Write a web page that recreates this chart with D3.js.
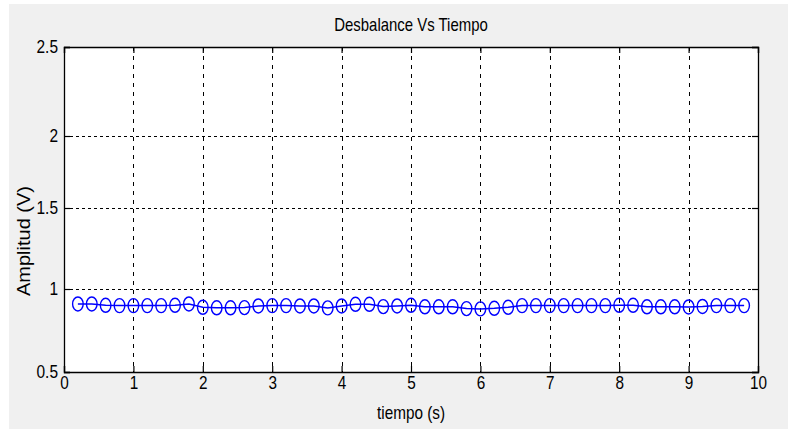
<!DOCTYPE html>
<html>
<head>
<meta charset="utf-8">
<script src="https://cdn.jsdelivr.net/npm/d3@7"></script>
<style>
  html, body { margin: 0; padding: 0; background: #ffffff; }
  svg { display: block; }
  text { font-family: "Liberation Sans", Arial, sans-serif; fill: #000; }
</style>
</head>
<body>
<svg id="chart" width="788" height="431"></svg>
<script>
// Sample times (s) and measured imbalance amplitude (V)
const tiempo = [0.2,0.4,0.6,0.8,1.0,1.2,1.4,1.6,1.8,2.0,2.2,2.4,2.6,2.8,3.0,3.2,3.4,3.6,3.8,4.0,
                4.2,4.4,4.6,4.8,5.0,5.2,5.4,5.6,5.8,6.0,6.2,6.4,6.6,6.8,7.0,7.2,7.4,7.6,7.8,8.0,
                8.2,8.4,8.6,8.8,9.0,9.2,9.4,9.6,9.8];
const amplitud = [0.910,0.910,0.902,0.900,0.900,0.900,0.900,0.902,0.910,0.890,0.887,0.887,0.888,0.898,0.900,0.900,0.898,0.898,0.886,0.898,
                  0.908,0.908,0.894,0.898,0.902,0.893,0.893,0.893,0.882,0.880,0.884,0.890,0.900,0.900,0.900,0.900,0.900,0.900,0.900,0.902,
                  0.902,0.893,0.893,0.893,0.892,0.895,0.900,0.900,0.900];
const xTicks = [0,1,2,3,4,5,6,7,8,9,10];
const yTicks = [0.5,1,1.5,2,2.5];
const titulo = "Desbalance Vs Tiempo";
const etiquetaX = "tiempo (s)";
const etiquetaY = "Amplitud (V)";

const svg = d3.select("#chart");

// figure background
svg.append("rect").attr("x", 9).attr("y", 4).attr("width", 779).attr("height", 425).attr("fill", "#f0f0f0");

const pLeft = 64, pRight = 758, pTop = 47, pBottom = 372;

const x = d3.scaleLinear().domain([0, 10]).range([pLeft, pRight]);
const y = d3.scaleLinear().domain([0.5, 1, 1.5, 2, 2.5]).range([pBottom, 289, 208, 136, pTop]);

// axes area
svg.append("rect").attr("x", pLeft).attr("y", pTop).attr("width", pRight - pLeft).attr("height", pBottom - pTop)
  .attr("fill", "#ffffff");

// grid
const grid = svg.append("g");
grid.selectAll("line.vx").data(xTicks.slice(1, -1)).join("line")
  .attr("x1", d => Math.round(x(d)) + 0.5).attr("x2", d => Math.round(x(d)) + 0.5)
  .attr("y1", pTop).attr("y2", pBottom)
  .attr("stroke", "#000").attr("stroke-width", 1).attr("stroke-dasharray", "4,5");
grid.selectAll("line.hy").data(yTicks.slice(1, -1)).join("line")
  .attr("y1", d => Math.round(y(d)) + 0.5).attr("y2", d => Math.round(y(d)) + 0.5)
  .attr("x1", pLeft).attr("x2", pRight)
  .attr("stroke", "#000").attr("stroke-width", 1).attr("stroke-dasharray", "3,3");

// axes with inward ticks
const xAxis = d3.axisBottom(x).tickValues(xTicks).tickSize(-6).tickPadding(4).tickFormat(d3.format("d"));
const xTopAxis = d3.axisTop(x).tickValues(xTicks).tickSize(-6).tickFormat("");
const yAxis = d3.axisLeft(y).tickValues(yTicks).tickSize(-6).tickPadding(7).tickFormat(d => String(d));
const yRightAxis = d3.axisRight(y).tickValues(yTicks).tickSize(-6).tickFormat("");

function styleAxis(g) {
  g.selectAll("path").attr("stroke", "#000").attr("stroke-width", 1.3);
  g.selectAll("line").attr("stroke", "#000").attr("stroke-width", 1.2);
  g.selectAll("text").attr("font-size", 18).attr("fill", "#000")
    .style("font-family", "'Liberation Sans', Arial, sans-serif");
}

const gx = svg.append("g").attr("transform", `translate(0,${pBottom})`).call(xAxis).call(styleAxis);
gx.selectAll("text").attr("transform", "scale(0.85,1)");
svg.append("g").attr("transform", `translate(0,${pTop})`).call(xTopAxis).call(styleAxis);
const gy = svg.append("g").attr("transform", `translate(${pLeft},0)`).call(yAxis).call(styleAxis);
gy.selectAll("text").attr("transform", "scale(0.86,1)");
svg.append("g").attr("transform", `translate(${pRight},0)`).call(yRightAxis).call(styleAxis);

// data line and markers
const line = d3.line().x((d, i) => x(tiempo[i])).y(d => y(d));
svg.append("path").datum(amplitud).attr("d", line)
  .attr("fill", "none").attr("stroke", "#0000ff").attr("stroke-width", 1.5);
svg.append("g").selectAll("ellipse").data(amplitud).join("ellipse")
  .attr("cx", (d, i) => x(tiempo[i])).attr("cy", d => y(d))
  .attr("rx", 5.3).attr("ry", 7)
  .attr("fill", "none").attr("stroke", "#0000ff").attr("stroke-width", 1.4);

// labels
const cx = (pLeft + pRight) / 2;
svg.append("text").attr("transform", `translate(${cx},31) scale(0.83,1)`).attr("text-anchor", "middle")
  .attr("font-size", 18).text(titulo);
svg.append("text").attr("transform", `translate(${cx},419) scale(0.85,1)`).attr("text-anchor", "middle")
  .attr("font-size", 18).text(etiquetaX);
svg.append("text").attr("transform", "translate(30,241) rotate(-90) scale(1,0.9)")
  .attr("text-anchor", "middle").attr("font-size", 20).text(etiquetaY);
</script>
</body>
</html>
